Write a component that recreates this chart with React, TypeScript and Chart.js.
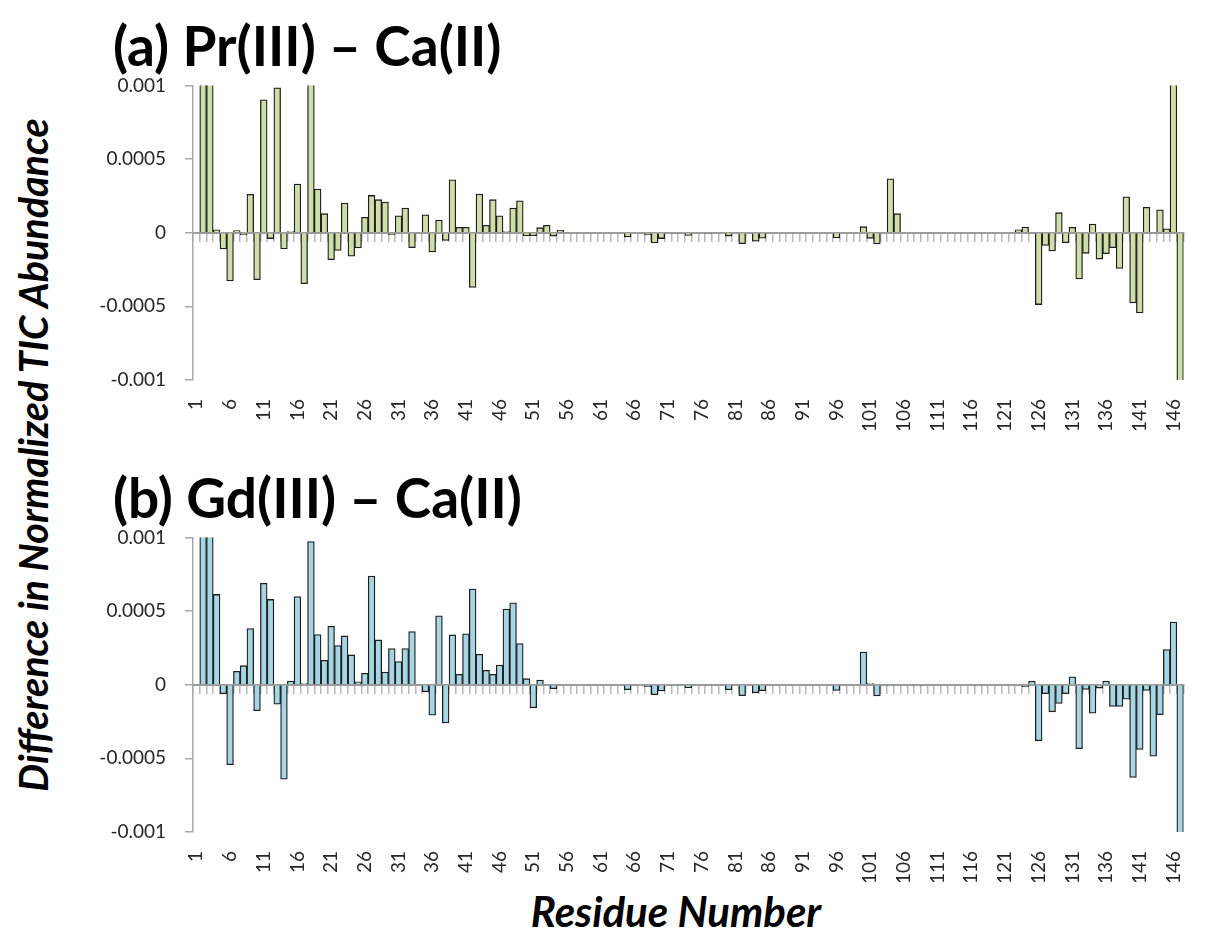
import React, { useEffect, useRef } from 'react';
import { Chart, registerables } from 'chart.js';

Chart.register(...registerables);

// Residue numbers 1..147 (category axis)
const residues: string[] = Array.from({ length: 147 }, (_, i) => String(i + 1));

// (a) Pr(III) – Ca(II): difference in normalized TIC abundance per residue
const prMinusCa: number[] = [
  0, 0.0015, 0.0015, 0.00002, -0.00011, -0.000328, 0.000014, -0.000014, 0.00026, -0.000319,
  0.000902, -0.00004, 0.000983, -0.00011, 0.000007, 0.00033, -0.000346, 0.0015, 0.000296, 0.000129,
  -0.000183, -0.00012, 0.000201, -0.00016, -0.000104, 0.000104, 0.000253, 0.000224, 0.000208, -0.000014,
  0.000115, 0.000167, -0.000102, 0, 0.000122, -0.000131, 0.000086, -0.000052, 0.000359, 0.000036,
  0.000036, -0.000371, 0.000262, 0.00005, 0.000224, 0.000115, 0.000007, 0.000167, 0.000217, -0.00002,
  -0.00002, 0.000034, 0.00005, -0.000023, 0.000016, 0, 0, 0, 0, 0,
  0, 0, 0, 0, -0.000029, 0, 0, -0.000015, -0.00007, -0.00004,
  0, -0.000006, 0, -0.000018, 0, 0, -0.000006, 0, 0, -0.000023,
  0, -0.000075, 0, -0.000057, -0.000037, 0, 0, 0, 0, 0,
  0, 0, 0, 0, 0, -0.000036, 0, 0, 0, 0.000041,
  -0.000038, -0.000077, 0, 0.000366, 0.000129, 0, 0, -0.000007, 0, 0,
  0, 0, 0, 0, 0, 0, -0.000007, 0, 0, 0,
  0, 0, 0.00002, 0.000038, -0.000007, -0.000488, -0.000086, -0.000124, 0.000136, -0.000068,
  0.000036, -0.000314, -0.00014, 0.000059, -0.000179, -0.000142, -0.000102, -0.000242, 0.000244, -0.000477,
  -0.000545, 0.000172, 0.000005, 0.000156, 0.000027, 0.0015, -0.0015,
];

// (b) Gd(III) – Ca(II)
const gdMinusCa: number[] = [
  0, 0.0015, 0.0015, 0.000613, -0.000061, -0.000543, 0.000091, 0.000129, 0.000381, -0.000177,
  0.000688, 0.000579, -0.000132, -0.000642, 0.000025, 0.000599, 0.000007, 0.000972, 0.000341, 0.000166,
  0.000397, 0.000266, 0.000331, 0.000202, 0.00002, 0.000078, 0.000738, 0.000304, 0.000086, 0.000245,
  0.000157, 0.000245, 0.000361, 0.000005, -0.000048, -0.000207, 0.000468, -0.000259, 0.000338, 0.00007,
  0.000345, 0.000649, 0.000207, 0.000098, 0.00007, 0.000134, 0.000513, 0.000556, 0.000279, 0.000041,
  -0.000157, 0.000032, -0.000007, -0.000027, 0, 0, 0, 0, 0, 0,
  0, 0, 0, 0, -0.000034, 0, 0, -0.000014, -0.000068, -0.000043,
  0, -0.000007, 0, -0.00002, 0, 0, -0.000007, 0, 0, -0.000034,
  0, -0.000075, 0, -0.000054, -0.000041, 0, 0, 0, 0, 0,
  0, 0, 0, 0, 0, -0.000039, 0, 0, 0, 0.000222,
  0.000007, -0.000077, 0, -0.000009, 0, 0, 0, -0.000009, 0, 0,
  0, 0, 0, 0, 0, 0, -0.000009, 0, 0, 0,
  0, 0, 0, -0.000014, 0.000025, -0.000381, -0.000061, -0.000184, -0.000127, -0.000061,
  0.000054, -0.000434, -0.000032, -0.000193, -0.000023, 0.000025, -0.000148, -0.000148, -0.000098, -0.000629,
  -0.00044, -0.000039, -0.000486, -0.000204, 0.000238, 0.000425, -0.0015,
];

const yTickValues: number[] = [-0.001, -0.0005, 0, 0.0005, 0.001];
const yTickLabels: string[] = ['-0.001', '-0.0005', '0', '0.0005', '0.001'];
const LABEL_EVERY = 5;

const panelTitles: string[] = ['(a) Pr(III) \u2013 Ca(II)', '(b) Gd(III) \u2013 Ca(II)'];
const yAxisTitle = 'Difference in Normalized TIC Abundance';
const xAxisTitle = 'Residue Number';

const GREEN = '#cfdea9';
const BLUE = '#a6d6e3';
const FONT = 'Lato, Carlito, Calibri, "Open Sans", sans-serif';

function makeConfig(values: number[], fill: string): any {
  return {
    type: 'bar',
    data: {
      labels: residues,
      datasets: [
        {
          data: values,
          backgroundColor: fill,
          borderColor: '#1e1e1e',
          borderWidth: 1.3,
          barPercentage: 1,
          categoryPercentage: 1,
          clip: 0,
        },
      ],
    },
    options: {
      animation: false,
      responsive: false,
      devicePixelRatio: 1,
      layout: { padding: { top: 0, right: 1, left: 0, bottom: 0 } },
      plugins: { legend: { display: false }, tooltip: { enabled: false }, title: { display: false } },
      scales: {
        x: {
          type: 'category',
          position: 'bottom',
          offset: true,
          grid: { display: false, drawTicks: false },
          border: { display: false },
          ticks: {
            autoSkip: false,
            minRotation: 90,
            maxRotation: 90,
            padding: 19,
            color: '#262626',
            font: { family: FONT, size: 19 },
            callback: (_v: any, i: number) => (i % LABEL_EVERY === 0 ? residues[i] : ''),
          },
          afterFit: (s: any) => {
            s.height = 50;
          },
        },
        xZero: {
          type: 'category',
          axis: 'x',
          position: { y: 0 },
          offset: true,
          z: 1,
          grid: {
            display: true,
            drawOnChartArea: false,
            drawTicks: true,
            tickLength: 8,
            offset: true,
            color: '#b8b8b8',
            lineWidth: 1.5,
          },
          border: { display: true, color: '#9c9c9c', width: 2 },
          ticks: { display: false, autoSkip: false },
        },
        y: {
          type: 'linear',
          position: 'left',
          min: -0.001,
          max: 0.001,
          afterBuildTicks: (s: any) => {
            s.ticks = yTickValues.map((v) => ({ value: v }));
          },
          afterFit: (s: any) => {
            s.width = 103;
          },
          grid: { drawOnChartArea: false, drawTicks: true, tickLength: 8, color: '#a8a8a8', lineWidth: 1.5 },
          border: { display: true, color: '#a8a8a8', width: 1.5 },
          ticks: {
            padding: 19,
            color: '#262626',
            font: { family: FONT, size: 19 },
            callback: (v: number) => {
              const i = yTickValues.indexOf(v);
              return i >= 0 ? yTickLabels[i] : '';
            },
          },
        },
      },
    },
  };
}

function BarPanel({ values, fill, top }: { values: number[]; fill: string; top: number }) {
  const ref = useRef<HTMLCanvasElement | null>(null);
  useEffect(() => {
    if (!ref.current) return;
    const chart = new Chart(ref.current, makeConfig(values, fill));
    return () => chart.destroy();
  }, [values, fill]);
  return (
    <canvas
      ref={ref}
      width={1132}
      height={375}
      style={{ position: 'absolute', left: 90, top, width: 1132, height: 375 }}
    />
  );
}

const titleStyle: React.CSSProperties = {
  position: 'absolute',
  left: 113,
  fontFamily: FONT,
  fontWeight: 700,
  fontSize: 55,
  lineHeight: 1,
  color: '#000',
  whiteSpace: 'nowrap',
};

export default function App() {
  return (
    <div
      style={{
        position: 'absolute',
        left: 0,
        top: 0,
        width: 1222,
        height: 934,
        background: '#ffffff',
        overflow: 'hidden',
      }}
    >
      <BarPanel values={prMinusCa} fill={GREEN} top={55} />
      <BarPanel values={gdMinusCa} fill={BLUE} top={507} />
      <div style={{ ...titleStyle, top: 18 }}>{panelTitles[0]}</div>
      <div style={{ ...titleStyle, top: 470 }}>{panelTitles[1]}</div>
      <div
        style={{
          position: 'absolute',
          left: 33,
          top: 455,
          transform: 'translate(-50%, -50%) rotate(-90deg)',
          fontFamily: FONT,
          fontWeight: 700,
          fontStyle: 'italic',
          fontSize: 39.5,
          lineHeight: 1,
          whiteSpace: 'nowrap',
          color: '#000',
        }}
      >
        {yAxisTitle}
      </div>
      <div
        style={{
          position: 'absolute',
          left: 676,
          top: 890,
          transform: 'translateX(-50%)',
          fontFamily: FONT,
          fontWeight: 700,
          fontStyle: 'italic',
          fontSize: 42,
          lineHeight: 1,
          whiteSpace: 'nowrap',
          color: '#000',
        }}
      >
        {xAxisTitle}
      </div>
    </div>
  );
}
